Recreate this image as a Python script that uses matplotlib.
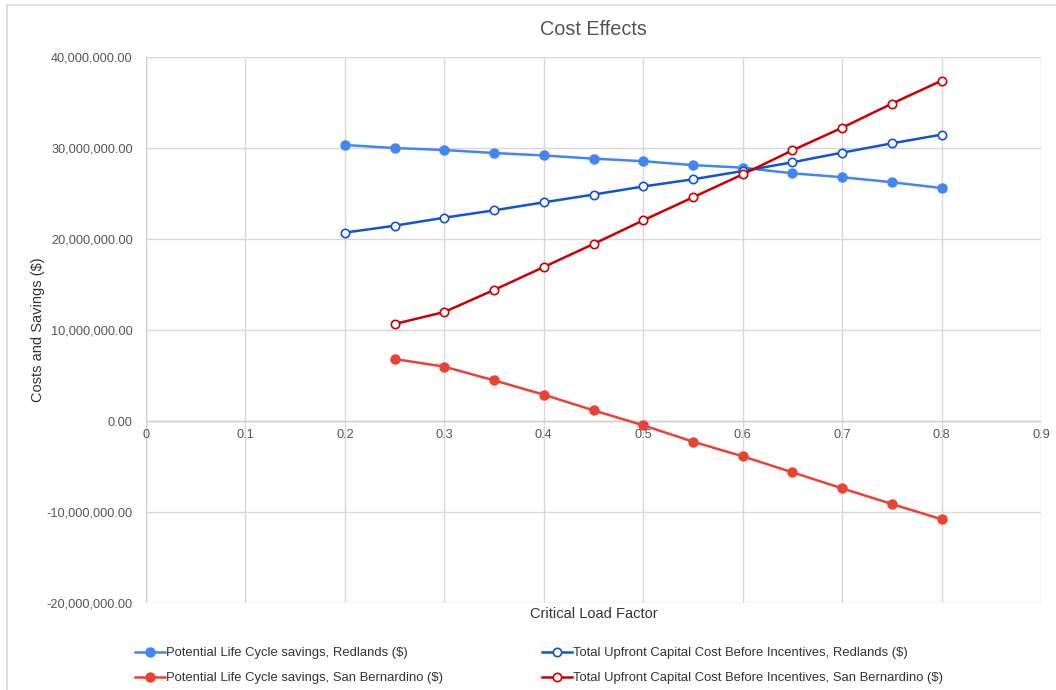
import matplotlib
matplotlib.use("Agg")
import matplotlib.pyplot as plt
from matplotlib.lines import Line2D
from matplotlib.ticker import FuncFormatter, MultipleLocator

plt.rcParams['font.family'] = ['Liberation Sans', 'DejaVu Sans']

# load factor steps
clf = [0.25, 0.3, 0.35, 0.4, 0.45, 0.5, 0.55, 0.6, 0.65, 0.7, 0.75, 0.8]
clf_redlands = [0.2] + clf

# values in dollars
savings_redlands = [30.33e6, 30.0e6, 29.78e6, 29.45e6, 29.18e6, 28.83e6, 28.55e6,
                    28.12e6, 27.84e6, 27.22e6, 26.79e6, 26.24e6, 25.6e6]
capital_redlands = [20.7e6, 21.46e6, 22.34e6, 23.15e6, 24.03e6, 24.88e6, 25.77e6,
                    26.56e6, 27.47e6, 28.43e6, 29.49e6, 30.51e6, 31.47e6]
savings_sanb = [6.81e6, 5.97e6, 4.47e6, 2.89e6, 1.17e6, -0.47e6, -2.27e6,
                -3.88e6, -5.64e6, -7.40e6, -9.12e6, -10.8e6]
capital_sanb = [10.66e6, 11.98e6, 14.4e6, 16.92e6, 19.45e6, 22.05e6, 24.58e6,
                27.1e6, 29.74e6, 32.23e6, 34.87e6, 37.4e6]

labels = ["Potential Life Cycle savings, Redlands ($)",
          "Total Upfront Capital Cost Before Incentives, Redlands ($)",
          "Potential Life Cycle savings, San Bernardino ($)",
          "Total Upfront Capital Cost Before Incentives, San Bernardino ($)"]

c_blue = "#4285f4"
c_dblue = "#1155cc"
c_red = "#ea4335"
c_dred = "#cc0000"

fig = plt.figure(figsize=(10.56, 6.9), dpi=100)
ax = fig.add_axes([146/1056, 1 - 603/690, 895/1056, 546/690])

filled = dict(lw=1.8, marker='o', ms=6.5)
hollow = dict(lw=1.8, marker='o', ms=6, mfc='white', mew=1.2)

h1, = ax.plot(clf_redlands, savings_redlands, color=c_blue, mec=c_blue, **filled)
h2, = ax.plot(clf_redlands, capital_redlands, color=c_dblue, mec=c_dblue, **hollow)
h3, = ax.plot(clf, savings_sanb, color=c_red, mec=c_red, **filled)
h4, = ax.plot(clf, capital_sanb, color=c_dred, mec=c_dred, **hollow)

ax.set_xlim(0, 0.9)
ax.set_ylim(-20e6, 40e6)
ax.xaxis.set_major_locator(MultipleLocator(0.1))
ax.yaxis.set_major_locator(MultipleLocator(10e6))
ax.yaxis.set_major_formatter(FuncFormatter(lambda v, p: f"{v:,.2f}"))

ax.grid(True, color="#d9d9d9", lw=1)
ax.set_axisbelow(True)
for s in ax.spines.values():
    s.set_visible(False)
ax.axhline(0, color="#cfcfcf", lw=1, zorder=1)
ax.axvline(0, color="#cfcfcf", lw=1, zorder=1)

ax.tick_params(axis='both', length=0, labelsize=9.2, labelcolor="#555555")
ax.tick_params(axis='y', pad=9.5)
# x tick labels sit just under the zero line
ax.tick_params(axis='x', labelbottom=False)
for x in [i / 10 for i in range(10)]:
    txt = "0" if x == 0 else f"{x:.1f}"
    ax.text(x, -0.9e6, txt, ha='center', va='top', fontsize=9.2, color="#555555")

ax.set_title("Cost Effects", fontsize=14.3, color="#555555", pad=16)
ax.set_xlabel("Critical Load Factor", fontsize=10.5, color="#333333", labelpad=3)
ax.set_ylabel("Costs and Savings ($)", fontsize=10.5, color="#333333", labelpad=1.5)

leg = fig.legend([h1, h3, h2, h4], [labels[0], labels[2], labels[1], labels[3]],
                 ncol=2, loc='upper left', bbox_to_anchor=(130/1056, 1 - 642/690),
                 frameon=False, fontsize=9.4, handlelength=2.3, handletextpad=0.08,
                 columnspacing=7.55, labelspacing=0.98, borderaxespad=0)
for t in leg.get_texts():
    t.set_color("#333333")

# outer chart frame
fig.add_artist(Line2D([7/1056, 7/1056], [0, 1 - 5/690], color="#d9d9d9", lw=1.2))
fig.add_artist(Line2D([7/1056, 1], [1 - 5/690, 1 - 5/690], color="#d9d9d9", lw=1.2))

fig.savefig("out.png", dpi=100)
